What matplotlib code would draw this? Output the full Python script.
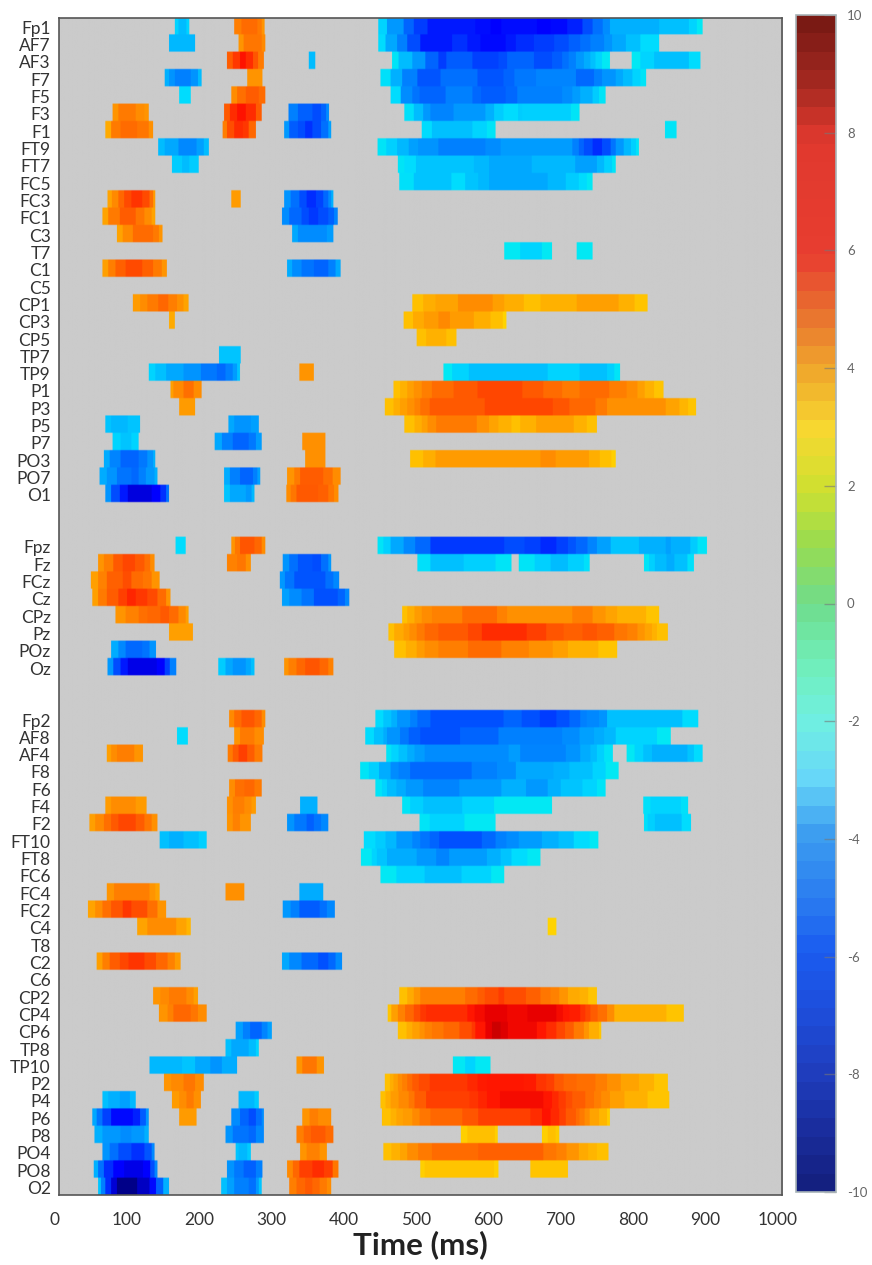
#!/usr/bin/env python3
"""Significant ERP effects per EEG channel over time, grouped left / midline / right."""
import numpy as np
import matplotlib
matplotlib.use("Agg")
import matplotlib.pyplot as plt
from matplotlib.cm import ScalarMappable
from matplotlib.colors import LinearSegmentedColormap, Normalize
from matplotlib.transforms import ScaledTranslation

plt.rcParams["font.family"] = ["Lato", "DejaVu Sans"]
plt.rcParams["axes.unicode_minus"] = False

left_channels = ["Fp1", "AF7", "AF3", "F7", "F5", "F3", "F1", "FT9", "FT7", "FC5", "FC3", "FC1", "C3", "T7",
                 "C1", "C5", "CP1", "CP3", "CP5", "TP7", "TP9", "P1", "P3", "P5", "P7", "PO3", "PO7", "O1"]
midline_channels = ["Fpz", "Fz", "FCz", "Cz", "CPz", "Pz", "POz", "Oz"]
right_channels = ["Fp2", "AF8", "AF4", "F8", "F6", "F4", "F2", "FT10", "FT8", "FC6", "FC4", "FC2", "C4", "T8",
                  "C2", "C6", "CP2", "CP4", "CP6", "TP8", "TP10", "P2", "P4", "P6", "P8", "PO4", "PO8", "O2"]

# Each cluster is flat: start_ms, value, end_ms, value, end_ms, ...
left_runs = [
    [[160,-3.3,165,-3.8,176,-3.3,180], [242,5.5,252,5.9,274,5.6,280,5,284],
     [441,-3.3,453,-4.5,476,-5.5,490,-6.3,509,-7,575,-7.2,596,-7.5,611,-7.2,660,-7.6,679,-7.3,702,-6.8,723,-6,737,-5.3,751,-4.7,761,-4,829,-3.7,870,-3.3,881,-2.9,889]],
    [[152,-3.9,188], [248,5,255,5.7,280,5.3,285],
     [441,-3.2,451,-4.2,467,-5,481,-6,499,-7,543,-6.5,564,-7,582,-7.3,617,-7,631,-6.6,656,-6.3,684,-6,704,-5.6,720,-5.3,734,-5,753,-4.6,764,-4.2,783,-3.7,803,-3.2,829]],
    [[232,6.2,240,7,250,7.8,258,7.2,268,6.4,275,5.6,283], [345,-3.8,354],
     [460,-3,469,-3.8,488,-4.5,506,-5.5,524,-6.3,535,-5.7,571,-6.2,607,-6,619,-5.5,656,-6,681,-5.7,695,-5.3,704,-5,714,-4.5,725,-4.1,734,-3.7,741,-3.3,750,-2.9,761],
     [791,-2.9,803,-3.3,822,-3.7,870,-3.2,886]],
    [[146,-4,152,-4.6,160,-5,182,-4.6,192,-3.8,197], [260,5,281],
     [444,-3.1,458,-4,474,-5,495,-5.8,527,-5.3,578,-5.8,614,-5.5,629,-5.1,659,-4.9,714,-5.4,739,-5,750,-4.6,769,-4.2,779,-3.8,792,-3.3,803,-3,811]],
    [[166,-3.2,182], [238,5.2,246,5.8,258,6.2,276,5.9,285],
     [458,-3.2,472,-4.7,488,-5.2,498,-5.5,534,-5,571,-5.4,583,-5.7,617,-5.4,633,-5,695,-4.7,709,-4.4,720,-4,737,-3.5,746,-3,755]],
    [[74,5,82,5.6,106,5.2,118,5,124], [228,6.3,236,7.2,246,7.8,258,7.2,272,6.2,280], [317,-5,330,-5.6,350,-6,362,-5.5,369,-4.7,373],
     [477,-3.1,490,-3.8,503,-4.5,513,-4.9,545,-4.5,589,-4,601,-3.5,614,-3.2,634,-3.5,640,-3.4,707,-3,719]],
    [[64,4.6,72,5.6,85,5.9,108,5.7,124,5.1,130], [226,5.5,232,6.5,242,7.2,254,7,262,6,272], [311,-4.5,318,-5.7,330,-6,340,-6.5,350,-6,362,-5.3,372,-4.3,376],
     [501,-3.2,515,-3.7,571,-3.3,591,-3,603], [837,-3,853]],
    [[137,-3.8,146,-4.2,165,-4.8,190,-4.3,200,-3.8,207],
     [440,-3,452,-3.4,467,-3.9,483,-4.3,496,-4.6,524,-5,589,-4.7,610,-4.4,709,-5,718,-5.5,725,-6,737,-6.6,750,-6,762,-5.2,769,-4.5,780,-3.9,790,-3.4,797,-3,801]],
    [[156,-3.5,170,-3.8,180,-3.5,193],
     [468,-3,477,-3.2,493,-3.6,573,-3.9,594,-4.2,653,-3.9,713,-4.3,743,-3.9,753,-3.4,764,-3,769]],
    [[470,-3.1,490,-3.6,542,-3.2,561,-3.6,579,-3.9,594,-4.2,675,-3.9,700,-3.5,718,-3.2,729,-2.9,737]],
    [[67,4.7,73,5.3,82,6,90,6.6,100,7.1,115,6.6,125,5.8,130,4.9,133], [238,4.9,251], [311,-4.6,320,-5.3,332,-6,342,-6.6,355,-6.1,365,-5.4,372,-4.7,376,-4,379]],
    [[60,4.7,68,5.6,84,6.2,106,5.7,118,5.2,128,4.7,133], [308,-4.7,318,-5.4,335,-6,345,-6.4,358,-6,372,-5.6,380,-4.9,385]],
    [[80,4.7,88,5.3,102,5.9,130,5.6,138,5,143], [322,-4.2,330,-4.7,370,-4.4,379]],
    [[615,-2.9,637,-3.3,667,-2.9,681], [715,-2.9,737]],
    [[60,4.8,68,5.5,78,6.1,92,6.6,115,6.1,130,5.6,142,5,149], [315,-4.1,322,-4.7,335,-5.2,352,-5.5,372,-5,382,-4.2,389]],
    [],
    [[102,4.9,112,5.2,122,5.6,137,6,151,5.5,163,5.1,172,4.7,179],
     [488,4.1,503,4.5,520,4.7,551,5.2,599,4.8,615,4.5,642,4.1,665,4.4,715,4.8,773,4.4,795,4,813]],
    [[152,4.6,160], [476,4.1,489,4.6,504,4.9,524,5.3,540,4.9,573,4.5,596,4.1,613,3.7,618]],
    [[494,4.1,507,4.4,535,4.1,549]],
    [[221,-3.6,251]],
    [[124,-3.3,133,-3.7,148,-4.2,172,-4.6,196,-5.1,218,-5.4,230,-5,240,-4.4,246,-3.6,250], [332,5,352],
     [531,-2.9,543,-3.3,566,-3.7,675,-3.3,719,-3.7,757,-3.4,767,-3,775]],
    [[154,4.8,158,5.3,172,5.8,186,5.2,197],
     [462,4.1,471,4.4,481,4.8,490,5.1,501,5.5,515,5.9,545,6.3,578,6.7,640,6.3,669,5.9,695,5.6,719,5.9,760,5.5,784,5.2,799,4.8,809,4.4,822,4,835]],
    [[166,4.9,188],
     [450,4.1,462,4.5,471,4.8,481,5.1,491,5.4,499,5.8,512,6.3,588,6.7,682,6.4,705,6,741,5.6,757,5.1,838,4.7,857,4.3,869,4,880]],
    [[64,-3.6,72,-3.9,95,-3.6,112], [234,-4.2,242,-4.6,265,-4.3,276],
     [477,4.1,491,4.5,501,4.8,509,5.2,521,5.6,577,5.1,594,4.7,607,4.4,625,4.1,637,4.4,659,4.8,711,4.4,729,4.1,743]],
    [[74,-3.3,85,-3.6,100,-3.3,110], [215,-4.2,225,-5,240,-5.5,262,-5.1,272,-4.4,280], [336,5.1,368]],
    [[62,-4.1,70,-4.9,85,-5.5,110,-5.1,122,-4.6,130,-4,133], [340,5.1,368],
     [485,4.1,503,4.5,520,4.9,665,5.2,686,4.9,732,4.5,747,4.1,763,3.8,769]],
    [[56,-4.1,66,-4.6,80,-5.2,100,-5.4,110,-5,120,-4.5,132,-4,136], [228,-4.1,236,-5,250,-5.5,268,-5,274,-4.3,278], [315,5,325,5.6,333,6.2,365,5.8,378,5.2,389]],
    [[64,-4.6,72,-6,84,-7,95,-8.3,128,-7.7,140,-6.5,148,-5.2,152], [228,-3.6,236,-4.2,258,-4.5,266,-3.9,270], [314,5.2,320,5.7,328,6.3,358,6.1,372,5.7,380,5.2,386]],
]

midline_runs = [
    [[161,-3.2,175], [238,5,243,5.7,250,6.4,270,6,280,5.2,285],
     [440,-3,448,-3.4,458,-4.2,476,-4.8,492,-5.4,513,-6.4,615,-6,643,-6.2,665,-6.7,687,-6.2,703,-5.8,714,-5.4,730,-4.9,743,-4.3,762,-3.6,801,-4,838,-4.3,845,-4,872,-3.5,882,-3,895]],
    [[54,5,62,5.5,75,6.3,88,6.7,105,6.3,118,5.8,126,5.2,132], [232,5.4,246,5.7,258,5.1,265], [309,-4.6,318,-5.3,330,-5.8,350,-6,362,-5.3,372,-4.5,376],
     [495,-3.1,513,-3.7,559,-3.4,603,-3,625], [635,-3,657,-3.4,679,-3.8,703,-3.4,725,-3.1,733], [808,-3,815,-3.4,823,-3.8,839,-4.1,850,-3.7,868,-3.1,877]],
    [[44,4.8,54,5.4,66,6.1,88,6.5,100,5.9,116,5.7,128,5,139], [305,-4.5,312,-5.2,325,-5.8,368,-5.3,379,-4.8,387]],
    [[46,4.8,54,5.6,66,6.2,82,6.8,94,7.4,106,7,122,6.6,136,5.9,148,5,154], [308,-4.3,318,-4.7,335,-5.2,352,-5.9,385,-5.5,395,-4.8,401]],
    [[78,5,92,5.4,110,5.8,122,6,140,6.3,152,5.9,165,5.3,175,4.8,179],
     [474,4.1,481,4.5,491,4.9,501,5.2,515,5.4,557,5.9,605,5.4,619,5.1,709,5.5,737,5,755,4.7,771,4.4,811,4,829]],
    [[152,4.8,185],
     [455,4.1,463,4.6,476,4.9,484,5.2,494,5.6,505,6,524,6.3,565,6.7,584,7.2,646,6.8,673,6.4,697,6.1,723,6.4,743,6.1,767,5.7,785,5.4,799,5,809,4.7,819,4.4,826,4.1,841]],
    [[72,-4.1,82,-4.8,92,-5.4,115,-5.2,125,-4.6,134],
     [463,4.1,479,4.5,494,4.9,505,5.2,524,5.5,565,5.9,611,5.4,649,5.1,682,4.8,703,4.4,745,4,771]],
    [[67,-4.5,75,-6,85,-7,95,-8.2,135,-7.5,146,-6.2,153,-5,162], [220,-3.5,230,-4.2,240,-4.6,258,-4.2,265,-3.7,270], [311,5,317,5.5,328,6,340,6.4,360,6,372,5.4,379]],
]

right_runs = [
    [[235,5.3,242,5.9,252,6.4,270,6,280,5.2,285],
     [437,-3.2,448,-3.6,459,-4,467,-4.6,485,-5,495,-5.4,513,-5.9,614,-5.5,639,-5.9,664,-6.3,687,-5.9,705,-5.4,720,-5,729,-4.8,746,-4.6,757,-3.7,861,-3.2,883]],
    [[163,-3.2,178], [242,5,250,5.6,270,5.2,283],
     [423,-3.2,435,-3.7,448,-4.1,453,-4.6,471,-5.1,483,-5.6,499,-5.9,554,-5.5,607,-5,695,-4.7,719,-4.3,739,-4.1,753,-3.9,769,-3.3,826,-2.9,845]],
    [[66,4.8,72,5.2,80,5.5,104,5,116], [233,5.6,240,6.2,248,6.8,260,6.2,270,5.6,281],
     [452,-3,459,-3.3,469,-3.7,481,-4.1,491,-4.4,505,-4.7,621,-4.4,637,-4.9,700,-4.6,720,-4.1,734,-3.8,743,-3.4,753,-3,765],
     [784,-2.9,795,-3.3,807,-3.7,819,-4,868,-3.6,877,-3.2,889]],
    [[416,-3,428,-3.4,442,-4.1,458,-4.7,469,-5,485,-5.4,570,-5,605,-4.7,631,-4.2,683,-4,705,-3.7,737,-3.3,755,-2.9,773]],
    [[235,5.2,243,5.8,256,6,270,5.6,280],
     [437,-3,446,-3.3,453,-3.8,466,-4.1,479,-4.5,503,-4.9,553,-4.5,611,-4,645,-4.5,675,-4,693,-3.6,723,-3.3,743,-3,755]],
    [[64,4.9,72,5.2,106,4.9,121], [232,5.1,240,5.5,256,5.2,266,4.9,272], [333,-4,357],
     [474,-3,485,-3.4,503,-3.7,557,-3.3,601,-2.9,681], [807,-3.1,817,-3.3,859,-3.1,869]],
    [[42,4.8,50,5.3,62,5.8,72,6.3,82,6.7,106,6.2,118,5.7,128,5.1,136], [232,5,240,5.4,250,5,265], [315,-4.6,325,-5.1,342,-5.6,352,-5.2,362,-4.8,372],
     [498,-3,512,-3.3,560,-2.9,603], [808,-3.1,813,-3.4,823,-3.7,860,-3.2,873]],
    [[139,-3.7,152,-4,172,-3.7,193,-3.4,204],
     [421,-3.2,437,-3.5,451,-3.9,466,-4.5,488,-4.9,499,-5.2,512,-5.5,525,-5.9,584,-5.4,603,-5,618,-4.7,635,-4.4,667,-4,690,-3.7,711,-3.2,733,-2.9,745]],
    [[417,-2.9,432,-3.3,439,-3.6,453,-4.1,494,-4.5,521,-4.9,539,-4.4,591,-4,610,-3.6,625,-3.2,647,-2.9,665]],
    [[444,-2.9,466,-3.3,505,-3.7,556,-3.3,597,-2.9,615]],
    [[66,5,76,5.5,125,5,133,4.7,139], [230,5.1,256], [332,-4.1,365]],
    [[40,4.7,50,5.2,60,5.8,72,6.4,88,7,100,6.5,122,5.8,136,5,148], [309,-4.5,320,-5,332,-5.7,360,-5.3,370,-4.8,381]],
    [[108,4.7,122,5.2,162,4.7,176,4.3,182], [675,3.7,687]],
    [],
    [[52,4.8,60,5.5,70,6.2,84,6.7,96,7.1,118,6.6,134,6,150,5.4,160,4.9,168], [308,-4.2,318,-4.8,335,-5.4,358,-5.9,372,-5.4,382,-4.7,391]],
    [],
    [[130,5,140,5.3,152,5.6,176,5.2,186,4.8,192],
     [470,4.1,481,4.6,490,5,499,5.5,561,5.9,578,6.2,588,6.5,607,6.9,615,6.5,645,6.1,665,5.7,679,5.4,691,5,703,4.6,719,4.4,731,4,743]],
    [[138,5,150,5.4,158,6,182,5.7,192,5.2,204],
     [454,4,459,4.8,468,5.4,478,6,490,6.5,499,7,507,7.2,564,7.7,574,7.9,588,8.2,619,8,647,8.2,687,7.9,696,7.7,705,7.5,720,7.1,727,6.7,734,6.2,744,5.8,757,5.2,767,4.4,839,4,863]],
    [[244,-4.3,254,-5,264,-5.5,280,-4.9,288,-4.3,294],
     [468,4.1,480,4.5,488,4.8,498,5.1,505,5.4,515,5.7,531,6,553,6.5,570,7,575,7.7,589,8.2,598,8.6,610,8.3,620,8,660,7.7,673,7.2,687,6.7,699,6.2,711,5.6,725,5,732,4.5,746,4,749]],
    [[230,-3.7,238,-4.2,262,-3.8,272,-3.3,276]],
    [[125,-3.9,170,-3.6,188,-4.2,209,-4.6,225,-4.1,246], [328,5,336,5.7,356,5,366], [544,-2.9,561,-3.3,575,-2.9,596]],
    [[145,5,155,5.3,172,5.7,188,5.2,200],
     [450,4.1,457,4.5,462,4.8,468,5.2,474,5.5,481,5.9,488,6.3,497,6.6,512,7,564,7.3,578,7.6,591,7.7,642,7.6,659,7.1,673,6.8,684,6.3,697,6,715,5.8,741,5.5,757,5.1,776,4.7,801,4.4,822,4,841]],
    [[60,-3.7,68,-4,84,-4.3,98,-3.9,106], [156,4.9,166,5.2,176,5.6,186,5.1,196], [248,-3.9,270,-3.5,276],
     [444,4.1,451,4.5,458,4.9,469,5.3,483,5.7,491,6.2,507,6.8,567,7.1,579,7.4,591,7.7,609,7.9,669,7.7,681,7.3,690,6.9,700,6.5,709,6.2,727,5.8,739,5.5,749,5.2,761,4.8,781,4.4,813,4,843]],
    [[46,-4.2,52,-5.2,60,-6.2,72,-7.3,102,-6.8,112,-5.7,120,-4.5,124], [166,4.9,190], [238,-4.7,250,-5.5,262,-6,272,-5.3,280,-4.7,283], [336,5,346,5.5,358,5.2,376],
     [446,4.1,458,4.4,466,4.7,475,4.9,488,5.3,498,5.7,513,6,557,6.4,579,6.8,651,7.2,667,7.8,679,7.3,691,6.8,700,6.3,714,5.9,719,5.6,726,5.2,733,4.7,746,4.3,757,3.9,761]],
    [[49,-4,60,-4.5,85,-4.7,100,-4.5,118,-4,124], [230,-4.6,240,-5.2,262,-5.4,272,-4.8,283], [328,5.5,338,6,348,6.3,368,5.9,379],
     [555,3.8,564,4.1,602,3.8,606], [667,3.8,675,4.1,686,3.9,691]],
    [[60,-4.6,70,-5.3,82,-6,100,-6.5,118,-5.8,128,-4.8,132], [244,-3.6,248,-3.9,260,-3.5,265], [333,5,342,5.4,360,5,370],
     [448,4.1,459,4.4,471,4.7,481,5.2,496,5.6,515,5.9,579,6.1,669,5.7,687,5.4,701,5,718,4.6,731,4.3,743,4.1,759]],
    [[48,-4,54,-5.3,62,-6.6,75,-7.6,90,-8.2,116,-7.5,126,-6,132,-4.8,136], [232,-4.6,242,-5.1,255,-5.6,272,-5,281], [315,5.3,323,6,332,6.8,350,7.2,366,6.8,378,5.7,386],
     [499,3.8,505,4,601,3.8,607], [651,4,703]],
    [[54,-3.6,58,-5,64,-6.6,72,-8.5,80,-9.8,108,-8.8,125,-7.3,134,-5.6,144,-4,152], [224,-3.7,232,-4.3,242,-5,262,-5.3,272,-4.5,276,-3.6,280], [318,5.5,328,6,340,6.3,350,6,360,5.6,370,5.2,376]],
]

gap = [""] * 2
channels = left_channels + gap + midline_channels + gap + right_channels
runs = left_runs + [[], []] + midline_runs + [[], []] + right_runs

colorbar_values = [-10, -9, -8, -7, -6, -5, -4, -3, -2, -1, 0, 1, 2, 3, 4, 5, 6, 8, 9, 10]
colorbar_colors = ["#142080", "#1a2ea0", "#1f3fc0", "#1e4edc", "#1a5cf0", "#2c7ff0", "#3c9cf0", "#68d8f8",
                   "#70f0e0", "#70eeb8", "#6fdc8c", "#98dc50", "#d0e030", "#f7d830", "#f0a82c", "#e8722f",
                   "#e83d30", "#e0392e", "#a32820", "#7a1a14"]
colorbar_ticks = list(range(-10, 11, 2))
time_ticks = list(range(0, 1001, 100))


def main():
    heat = np.full((len(channels), 1000), np.nan)
    for row, clusters in enumerate(runs):
        for cluster in clusters:
            for i in range(0, len(cluster) - 1, 2):
                heat[row, cluster[i]:cluster[i + 2]] = cluster[i + 1]

    W, H = 872, 1265
    fig = plt.figure(figsize=(W / 100, H / 100), dpi=100)
    ax = fig.add_axes([59 / W, 1 - 1195 / H, (782 - 59) / W, (1195 - 17.5) / H])

    cmap = plt.get_cmap("jet").copy()
    cmap.set_bad("#cbcbcb")
    norm = Normalize(-10, 10)
    # rows repeated so the soft resampling only blurs the edges of each row
    ax.imshow(np.repeat(heat, 8, axis=0), cmap=cmap, norm=norm, aspect="auto",
              extent=(0, 1000, len(channels), 0), interpolation="hanning", interpolation_stage="rgba")

    ax.set_yticks(np.arange(len(channels)) + 0.5)
    ax.set_yticklabels(channels, fontsize=12.5, color="#333333")
    ax.set_xticks(time_ticks)
    ax.set_xticklabels(time_ticks, fontsize=12.5, color="#333333")
    ax.tick_params(axis="both", length=0)
    ax.tick_params(axis="y", pad=6)
    ax.tick_params(axis="x", pad=12)
    # tick labels sit a little off their positions in the original
    shift = ScaledTranslation(-4.5 / 100, 0, fig.dpi_scale_trans)
    for label in ax.get_xticklabels():
        label.set_transform(label.get_transform() + shift)
    nudge = ScaledTranslation(0, -1.2 / 100, fig.dpi_scale_trans)
    for label in ax.get_yticklabels():
        label.set_transform(label.get_transform() + nudge)
    for spine in ax.spines.values():
        spine.set_color("#555555")
        spine.set_linewidth(1.2)
    fig.text(420 / W, 1 - 1245 / H, "Time (ms)", fontsize=22.5, fontweight="bold", color="#222222",
             ha="center", va="center")

    stops = [(v + 10) / 20 for v in colorbar_values]
    bar_cmap = LinearSegmentedColormap.from_list("muted_jet", list(zip(stops, colorbar_colors)), N=64)
    cax = fig.add_axes([796 / W, 1 - 1192 / H, 40 / W, (1192 - 15) / H])
    cbar = fig.colorbar(ScalarMappable(norm=norm, cmap=bar_cmap), cax=cax, ticks=colorbar_ticks)
    cbar.ax.tick_params(direction="in", length=9, width=1, color="#77777799", labelsize=9.5,
                        labelcolor="#666666", pad=8)
    cbar.outline.set_edgecolor("#a8b4b8")
    cbar.outline.set_linewidth(1.2)

    fig.savefig("out.png", dpi=100)
    plt.close(fig)


if __name__ == "__main__":
    main()
